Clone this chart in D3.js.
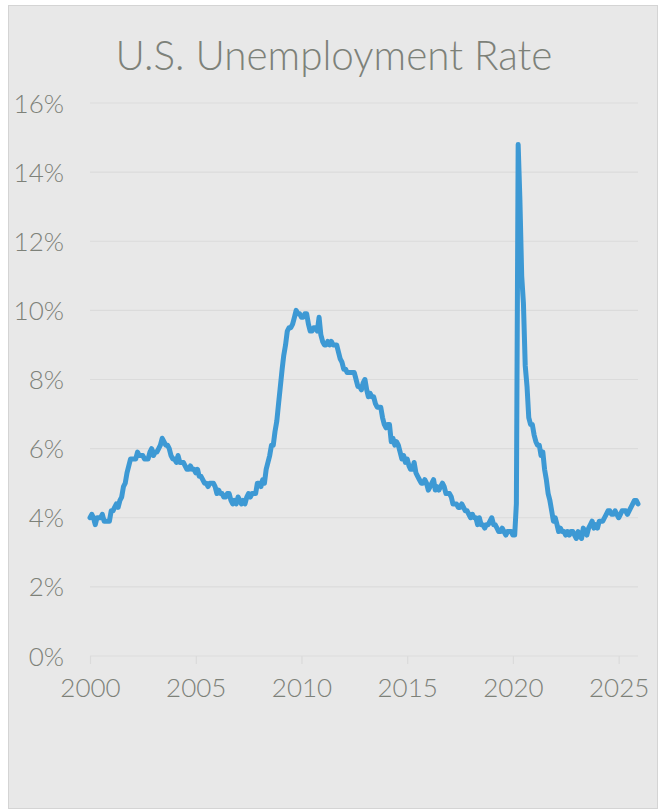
<!DOCTYPE html>
<html>
<head>
<meta charset="utf-8">
<script src="https://cdn.jsdelivr.net/npm/d3@7"></script>
<style>
  html, body { margin: 0; padding: 0; background: #ffffff; }
  svg { display: block; }
  text { font-family: Lato, "Open Sans", sans-serif; font-weight: 300; }
</style>
</head>
<body>
<svg id="chart" width="668" height="810"></svg>
<script>
// Monthly U.S. unemployment rate (%), January 2000 – December 2025
const startYear = 2000;
const rate2000s = [
  4.0, 4.1, 4.0, 3.8, 4.0, 4.0, 4.0, 4.1, 3.9, 3.9, 3.9, 3.9,   // 2000
  4.2, 4.2, 4.3, 4.4, 4.3, 4.5, 4.6, 4.9, 5.0, 5.3, 5.5, 5.7,   // 2001
  5.7, 5.7, 5.7, 5.9, 5.8, 5.8, 5.8, 5.7, 5.7, 5.7, 5.9, 6.0,   // 2002
  5.8, 5.9, 5.9, 6.0, 6.1, 6.3, 6.2, 6.1, 6.1, 6.0, 5.8, 5.7,   // 2003
  5.7, 5.6, 5.8, 5.6, 5.6, 5.6, 5.5, 5.4, 5.4, 5.5, 5.4, 5.4,   // 2004
  5.3, 5.4, 5.2, 5.2, 5.1, 5.0, 5.0, 4.9, 5.0, 5.0, 5.0, 4.9,   // 2005
  4.7, 4.8, 4.7, 4.7, 4.6, 4.6, 4.7, 4.7, 4.5, 4.4, 4.5, 4.4,   // 2006
  4.6, 4.5, 4.4, 4.5, 4.4, 4.6, 4.7, 4.6, 4.7, 4.7, 4.7, 5.0,   // 2007
  5.0, 4.9, 5.1, 5.0, 5.4, 5.6, 5.8, 6.1, 6.1, 6.5, 6.8, 7.3,   // 2008
  7.8, 8.3, 8.7, 9.0, 9.4, 9.5, 9.5, 9.6, 9.8, 10.0, 9.9, 9.9   // 2009
];
const rate2010s = [
  9.8, 9.8, 9.9, 9.9, 9.6, 9.4, 9.4, 9.5, 9.5, 9.4, 9.8, 9.3,   // 2010
  9.1, 9.0, 9.0, 9.1, 9.0, 9.1, 9.0, 9.0, 9.0, 8.8, 8.6, 8.5,   // 2011
  8.3, 8.3, 8.2, 8.2, 8.2, 8.2, 8.2, 8.0, 7.8, 7.8, 7.7, 7.9,   // 2012
  8.0, 7.7, 7.5, 7.6, 7.5, 7.5, 7.3, 7.2, 7.2, 7.2, 6.9, 6.7,   // 2013
  6.6, 6.7, 6.7, 6.2, 6.3, 6.1, 6.2, 6.1, 5.9, 5.7, 5.8, 5.6,   // 2014
  5.7, 5.5, 5.4, 5.4, 5.6, 5.3, 5.2, 5.1, 5.0, 5.0, 5.1, 5.0,   // 2015
  4.8, 4.9, 5.0, 5.1, 4.8, 4.9, 4.8, 4.9, 5.0, 4.9, 4.7, 4.7,   // 2016
  4.7, 4.6, 4.4, 4.4, 4.4, 4.3, 4.3, 4.4, 4.3, 4.2, 4.2, 4.1,   // 2017
  4.0, 4.1, 4.0, 4.0, 3.8, 4.0, 3.8, 3.8, 3.7, 3.8, 3.8, 3.9,   // 2018
  4.0, 3.8, 3.8, 3.7, 3.6, 3.6, 3.7, 3.6, 3.5, 3.6, 3.6, 3.6    // 2019
];
const rate2020s = [
  3.5, 3.5, 4.4, 14.8, 13.2, 11.0, 10.2, 8.4, 7.8, 6.9, 6.7, 6.7, // 2020
  6.4, 6.2, 6.1, 6.1, 5.8, 5.9, 5.4, 5.1, 4.7, 4.5, 4.2, 3.9,     // 2021
  4.0, 3.8, 3.6, 3.7, 3.6, 3.6, 3.5, 3.6, 3.5, 3.6, 3.6, 3.5,     // 2022
  3.4, 3.6, 3.5, 3.4, 3.7, 3.6, 3.5, 3.7, 3.8, 3.9, 3.7, 3.8,     // 2023
  3.7, 3.9, 3.9, 3.9, 4.0, 4.1, 4.2, 4.2, 4.1, 4.1, 4.2, 4.1,     // 2024
  4.0, 4.1, 4.2, 4.2, 4.2, 4.1, 4.2, 4.3, 4.4, 4.5, 4.5, 4.4      // 2025
];
const yTickValues = [0, 2, 4, 6, 8, 10, 12, 14, 16];
const xTickYears = [2000, 2005, 2010, 2015, 2020, 2025];
const titleText = "U.S. Unemployment Rate";

const rates = [...rate2000s, ...rate2010s, ...rate2020s];
const series = rates.map((v, i) => ({
  date: new Date(startYear + Math.floor(i / 12), i % 12, 1),
  value: v
}));

const svg = d3.select("#chart");
const textColor = "#7d8179";
const gridColor = "#dbdbdb";

// panel
svg.append("rect")
  .attr("x", 8.5).attr("y", 5.5)
  .attr("width", 649).attr("height", 803)
  .attr("fill", "#e8e8e8")
  .attr("stroke", "#d4d4d4")
  .attr("stroke-width", 1);

const x = d3.scaleTime()
  .domain(d3.extent(series, d => d.date))
  .range([90, 638]);

const y = d3.scaleLinear()
  .domain([0, 16])
  .range([656, 103]);

// horizontal gridlines
svg.append("g")
  .selectAll("line")
  .data(yTickValues.filter(v => v > 0))
  .join("line")
  .attr("x1", 90).attr("x2", 638)
  .attr("y1", d => y(d)).attr("y2", d => y(d))
  .attr("stroke", gridColor)
  .attr("stroke-width", 1.2);

// y axis labels
const yAxis = d3.axisLeft(y)
  .tickValues(yTickValues)
  .tickFormat(d => d + "%")
  .tickSize(0)
  .tickPadding(0);
const gy = svg.append("g")
  .attr("transform", "translate(64,0)")
  .call(yAxis);
gy.select(".domain").remove();
gy.selectAll("text")
  .attr("fill", textColor)
  .attr("font-size", 26)
  .attr("dy", "0.35em");

// x axis
const xAxis = d3.axisBottom(x)
  .tickValues(xTickYears.map(yr => new Date(yr, 0, 1)))
  .tickFormat(d3.timeFormat("%Y"))
  .tickSize(8)
  .tickPadding(15);
const gx = svg.append("g")
  .attr("transform", `translate(0,${y(0)})`)
  .call(xAxis);
gx.select(".domain")
  .attr("d", `M90,0H638`)
  .attr("stroke", gridColor)
  .attr("stroke-width", 1.2);
gx.selectAll(".tick line")
  .attr("stroke", gridColor)
  .attr("stroke-width", 1.2);
gx.selectAll("text")
  .attr("fill", textColor)
  .attr("font-size", 26);

// rate line
const line = d3.line()
  .x(d => x(d.date))
  .y(d => y(d.value));
svg.append("path")
  .datum(series)
  .attr("d", line)
  .attr("fill", "none")
  .attr("stroke", "#3d99d4")
  .attr("stroke-width", 5)
  .attr("stroke-linejoin", "round")
  .attr("stroke-linecap", "round");

// title, sized to span its width
const title = svg.append("text")
  .attr("x", 334)
  .attr("y", 70)
  .attr("text-anchor", "middle")
  .attr("fill", textColor)
  .attr("font-size", 38)
  .text(titleText);
const tw = title.node().getComputedTextLength();
title.attr("font-size", 38 * 437 / tw);
</script>
</body>
</html>
